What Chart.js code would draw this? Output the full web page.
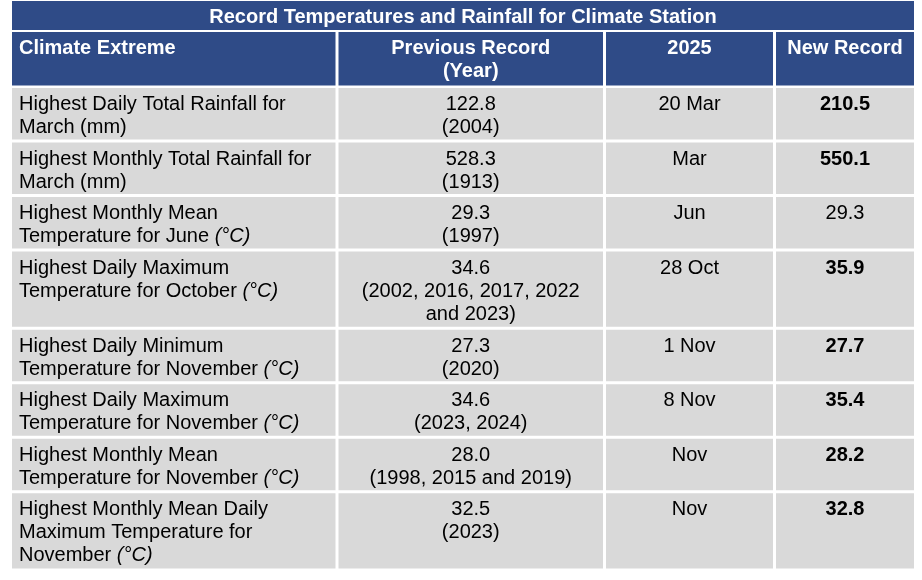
<!DOCTYPE html>
<html><head><meta charset="utf-8">
<script src="https://cdn.jsdelivr.net/npm/chart.js@4.4.1/dist/chart.umd.min.js"></script>
<style>html,body{margin:0;padding:0;background:#fff;}canvas{display:block}</style>
</head><body>
<canvas id="c" width="922" height="580"></canvas>
<script>
// ---------- data ----------
const titleText = 'Record Temperatures and Rainfall for Climate Station';
const headers = [['Climate Extreme'], ['Previous Record', '(Year)'], ['2025'], ['New Record']];
const climateExtremes = [
  ['Highest Daily Total Rainfall for', 'March (mm)'],
  ['Highest Monthly Total Rainfall for', 'March (mm)'],
  ['Highest Monthly Mean', 'Temperature for June (°C)'],
  ['Highest Daily Maximum', 'Temperature for October (°C)'],
  ['Highest Daily Minimum', 'Temperature for November (°C)'],
  ['Highest Daily Maximum', 'Temperature for November (°C)'],
  ['Highest Monthly Mean', 'Temperature for November (°C)'],
  ['Highest Monthly Mean Daily', 'Maximum Temperature for', 'November (°C)']
];
const previousRecords = [122.8, 528.3, 29.3, 34.6, 27.3, 34.6, 28.0, 32.5];
const previousYears = [
  ['(2004)'], ['(1913)'], ['(1997)'], ['(2002, 2016, 2017, 2022', 'and 2023)'],
  ['(2020)'], ['(2023, 2024)'], ['(1998, 2015 and 2019)'], ['(2023)']
];
const dates2025 = ['20 Mar', 'Mar', 'Jun', '28 Oct', '1 Nov', '8 Nov', 'Nov', 'Nov'];
const newRecords = [210.5, 550.1, 29.3, 35.9, 27.7, 35.4, 28.2, 32.8];
const newRecordIsNew = [true, true, false, true, true, true, true, true];

// ---------- layout ----------
const W = 922, H = 580;
const BLUE = '#2F4B87', GRAY = '#D9D9D9';
const FONT = '"Liberation Sans", Arial, Helvetica, sans-serif';
const colBounds = [[12, 335.5], [338.5, 603], [606, 773], [776, 914]];
const titleBounds = [12, 914, 1, 30];
const headerTop = 32, headerH = 53.5, firstRowTop = 88, rowGap = 3, lineH = 23.75, rowPad = 4;

const rowLines = climateExtremes.map((c, i) => Math.max(c.length, 1 + previousYears[i].length, 1));
const rowRanges = [];
let t = firstRowTop;
rowLines.forEach(n => { const h = n * lineH + rowPad; rowRanges.push([t, t + h]); t += h + rowGap; });

const datasets = [{
  label: 'title',
  data: [{x: (titleBounds[0] + titleBounds[1]) / 2, y: [titleBounds[2], titleBounds[3]]}],
  barThickness: titleBounds[1] - titleBounds[0],
  backgroundColor: BLUE
}];
colBounds.forEach((b, j) => {
  const cx = (b[0] + b[1]) / 2;
  datasets.push({
    label: 'col' + j,
    data: [{x: cx, y: [headerTop, headerTop + headerH]}].concat(rowRanges.map(r => ({x: cx, y: r}))),
    barThickness: b[1] - b[0],
    backgroundColor: [BLUE].concat(rowRanges.map(() => GRAY))
  });
});
datasets.forEach(d => { d.stack = 'cells'; d.borderWidth = 0; d.borderSkipped = false; d.inflateAmount = 0; });

function drawLine(ctx, text, x, y, align, weight, color) {
  ctx.fillStyle = color;
  ctx.textBaseline = 'alphabetic';
  const m = text.match(/^(.*?)(\(°C\))$/);
  if (m) {
    ctx.font = weight + ' 20px ' + FONT;
    const w1 = ctx.measureText(m[1]).width;
    ctx.font = 'italic ' + weight + ' 20px ' + FONT;
    const w2 = ctx.measureText(m[2]).width;
    let sx = align === 'left' ? x : x - (w1 + w2) / 2;
    ctx.textAlign = 'left';
    ctx.font = weight + ' 20px ' + FONT;
    ctx.fillText(m[1], sx, y);
    ctx.font = 'italic ' + weight + ' 20px ' + FONT;
    ctx.fillText(m[2], sx + w1, y);
  } else {
    ctx.font = weight + ' 20px ' + FONT;
    ctx.textAlign = align;
    ctx.fillText(text, x, y);
  }
}

const tableText = {
  id: 'tableText',
  afterDatasetsDraw(chart) {
    const ctx = chart.ctx;
    ctx.save();
    // title
    const te = chart.getDatasetMeta(0).data[0];
    const tTop = Math.min(te.y, te.base);
    ctx.font = 'bold 20px ' + FONT;
    ctx.fillStyle = '#FFFFFF';
    ctx.textAlign = 'center';
    ctx.textBaseline = 'alphabetic';
    ctx.fillText(titleText, te.x, tTop + 21.5);
    for (let j = 0; j < 4; j++) {
      const els = chart.getDatasetMeta(j + 1).data;
      els.forEach((el, k) => {
        const left = el.x - el.width / 2;
        const top = Math.min(el.y, el.base);
        const align = j === 0 ? 'left' : 'center';
        const x = j === 0 ? left + 7 : el.x;
        if (k === 0) {
          headers[j].forEach((ln, li) => drawLine(ctx, ln, x, top + 21.5 + li * 23, align, 'bold', '#FFFFFF'));
          return;
        }
        const i = k - 1;
        let lines, weight = 'normal';
        if (j === 0) lines = climateExtremes[i];
        else if (j === 1) lines = [previousRecords[i].toFixed(1)].concat(previousYears[i]);
        else if (j === 2) lines = [dates2025[i]];
        else { lines = [newRecords[i].toFixed(1)]; weight = newRecordIsNew[i] ? 'bold' : 'normal'; }
        lines.forEach((ln, li) => drawLine(ctx, ln, x, top + 22 + li * 23, align, weight, '#000000'));
      });
    }
    ctx.restore();
  }
};

new Chart(document.getElementById('c'), {
  type: 'bar',
  data: {datasets},
  options: {
    responsive: false,
    animation: false,
    events: [],
    layout: {padding: 0},
    plugins: {legend: {display: false}, tooltip: {enabled: false}, title: {display: false}},
    scales: {
      x: {type: 'linear', min: 0, max: W, display: false, offset: false, grid: {offset: false}},
      y: {type: 'linear', min: 0, max: H, reverse: true, display: false, stacked: false, beginAtZero: false}
    }
  },
  plugins: [tableText]
});
</script>
</body></html>
